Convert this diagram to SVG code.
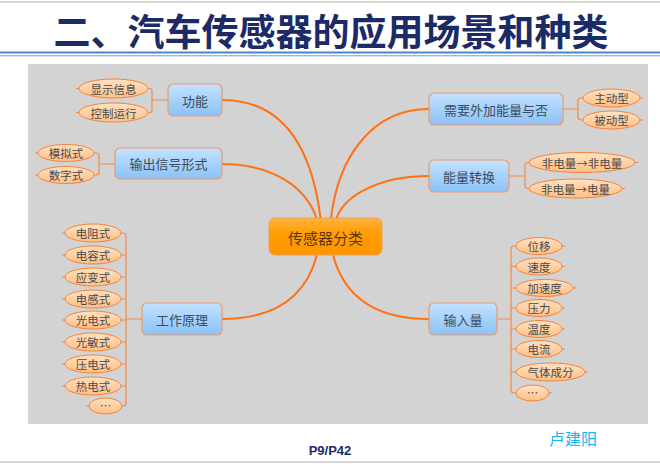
<svg xmlns="http://www.w3.org/2000/svg" width="660" height="464" viewBox="0 0 660 464">
<defs>
<linearGradient id="gBlue" x1="0" y1="0" x2="0" y2="1">
<stop offset="0" stop-color="#c4e2ff"/>
<stop offset="0.5" stop-color="#a6d2fb"/>
<stop offset="1" stop-color="#8cc2f6"/>
</linearGradient>
<linearGradient id="gOrange" x1="0" y1="0" x2="0" y2="1">
<stop offset="0" stop-color="#ffb340"/>
<stop offset="0.45" stop-color="#ff9c00"/>
<stop offset="1" stop-color="#ff9500"/>
</linearGradient>
<linearGradient id="gLeaf" x1="0" y1="0" x2="0" y2="1">
<stop offset="0" stop-color="#ffe2c4"/>
<stop offset="1" stop-color="#ffbf85"/>
</linearGradient>
<style>
.blue{fill:url(#gBlue);stroke:#ef9a6a;stroke-width:1.2}
.core{fill:url(#gOrange);stroke:#f0a050;stroke-width:1}
.leaf{fill:url(#gLeaf);stroke:#f5833a;stroke-width:1}
.main{fill:none;stroke:#ff7214;stroke-width:2}
.br{fill:none;stroke:#f08a4a;stroke-width:1.2}
.tail{fill:none;stroke:#f5833a;stroke-width:1}
.t{font-family:"Noto Sans CJK SC","Liberation Sans",sans-serif;text-anchor:middle;dominant-baseline:central}
.tb{font-size:13px;fill:#3c4c5c}
.tl{font-size:11.5px;fill:#4a4a4a}
.tc{font-size:15px;fill:#5a3a10}
</style>
</defs>
<rect x="0" y="0" width="660" height="464" fill="#ffffff"/>
<line x1="0" y1="2" x2="660" y2="2" stroke="#c8c8c8" stroke-width="1.5"/>
<text x="331" y="30" class="t" font-size="37" font-weight="bold" fill="#1c2b66">二、汽车传感器的应用场景和种类</text>
<line x1="0" y1="52.5" x2="660" y2="52.5" stroke="#4a86d0" stroke-width="1.8"/>
<line x1="0" y1="55.8" x2="660" y2="55.8" stroke="#6a9ad8" stroke-width="1"/>
<rect x="28" y="64" width="620" height="360" fill="#d3d3d3"/>
<line x1="0" y1="462" x2="660" y2="462" stroke="#c8c8c8" stroke-width="1.5"/>

<g id="connectors">
<path class="main" d="M222,100 C285,100 312,150 320.5,218"/>
<path class="main" d="M222,164 C270,164 305,185 316.5,218"/>
<path class="main" d="M429,109 C370,109 338,160 331,218"/>
<path class="main" d="M429,176 C380,176 345,195 336.5,218"/>
<path class="main" d="M222,319 C270,319 305,300 317,255"/>
<path class="main" d="M429,319 C380,319 345,300 333,255"/>
<path class="br" d="M168,100 H152 M148,88.5 H150 Q152,88.5 152,91 V110 Q152,112.5 150,112.5 H148"/>
<path class="br" d="M115,164 H99 M94,153 H96 Q99,153 99,156 V172 Q99,175 96,175 H94"/>
<path class="br" d="M142,319 H126 M121,233 H123 Q126,233 126,236 V403 Q126,406 123,406 H122 M121,255 H126 M121,277 H126 M121,299 H126 M121,320 H126 M121,342 H126 M121,364 H126 M121,386 H126"/>
<path class="br" d="M563,109 H578 M583,98 H581 Q578,98 578,101 V117 Q578,120 581,120 H583"/>
<path class="br" d="M509,176 H525 M529,162.5 H528 Q525,162.5 525,165.5 V185.5 Q525,188.5 528,188.5 H529"/>
<path class="br" d="M497,319 H511 M516,246 H514 Q511,246 511,249 V390 Q511,393 514,393 H516 M516,266.5 H511 M516,288 H511 M516,308 H511 M516,329 H511 M516,349 H511 M516,372 H511"/>
<path class="tail" d="M79,88.5 H76 M79,112.5 H76 M38,153 H35 M38,175 H35 M65,233 H62 M65,255 H62 M65,277 H62 M65,299 H62 M65,320 H62 M65,342 H62 M65,364 H62 M65,386 H62 M89,406 H86 M640,98 H643 M640,120 H643 M635,162.5 H638 M622,188.5 H625 M562,246 H565 M562,266.5 H565 M573,288 H576 M562,308 H565 M562,329 H565 M562,349 H565 M585,372 H588 M549,393 H552"/>
</g>

<g id="core"><rect class="core" x="269" y="218" width="113" height="37" rx="6"/><text class="t tc" x="325.5" y="237">传感器分类</text></g>

<g id="n-func"><rect class="blue" x="168" y="84" width="54" height="32" rx="5"/><text class="t tb" x="195" y="100">功能</text></g>
<g id="l-disp"><ellipse class="leaf" cx="113.5" cy="88.5" rx="34.5" ry="9.5"/><text class="t tl" x="113.5" y="88.5">显示信息</text></g>
<g id="l-ctrl"><ellipse class="leaf" cx="113.5" cy="112.5" rx="34.5" ry="9.5"/><text class="t tl" x="113.5" y="112.5">控制运行</text></g>

<g id="n-out"><rect class="blue" x="115" y="148" width="107" height="31" rx="5"/><text class="t tb" x="168.5" y="163.5">输出信号形式</text></g>
<g id="l-analog"><ellipse class="leaf" cx="66" cy="153" rx="28" ry="8.5"/><text class="t tl" x="66" y="153">模拟式</text></g>
<g id="l-digital"><ellipse class="leaf" cx="66" cy="175" rx="28" ry="8.5"/><text class="t tl" x="66" y="175">数字式</text></g>

<g id="n-work"><rect class="blue" x="142" y="303" width="80" height="32" rx="5"/><text class="t tb" x="182" y="319">工作原理</text></g>
<g id="l-w1"><ellipse class="leaf" cx="93" cy="233" rx="28" ry="9"/><text class="t tl" x="93" y="233">电阻式</text></g>
<g id="l-w2"><ellipse class="leaf" cx="93" cy="255" rx="28" ry="9"/><text class="t tl" x="93" y="255">电容式</text></g>
<g id="l-w3"><ellipse class="leaf" cx="93" cy="277" rx="28" ry="9"/><text class="t tl" x="93" y="277">应变式</text></g>
<g id="l-w4"><ellipse class="leaf" cx="93" cy="299" rx="28" ry="9"/><text class="t tl" x="93" y="299">电感式</text></g>
<g id="l-w5"><ellipse class="leaf" cx="93" cy="320" rx="28" ry="9"/><text class="t tl" x="93" y="320">光电式</text></g>
<g id="l-w6"><ellipse class="leaf" cx="93" cy="342" rx="28" ry="9"/><text class="t tl" x="93" y="342">光敏式</text></g>
<g id="l-w7"><ellipse class="leaf" cx="93" cy="364" rx="28" ry="9"/><text class="t tl" x="93" y="364">压电式</text></g>
<g id="l-w8"><ellipse class="leaf" cx="93" cy="386" rx="28" ry="9"/><text class="t tl" x="93" y="386">热电式</text></g>
<g id="l-w9"><ellipse class="leaf" cx="105.5" cy="406" rx="16.5" ry="8"/><text class="t tl" x="105.5" y="405">…</text></g>

<g id="n-energy"><rect class="blue" x="429" y="93" width="134" height="32" rx="5"/><text class="t tb" x="496" y="109">需要外加能量与否</text></g>
<g id="l-active"><ellipse class="leaf" cx="611.5" cy="98" rx="28.5" ry="9"/><text class="t tl" x="611.5" y="98">主动型</text></g>
<g id="l-passive"><ellipse class="leaf" cx="611.5" cy="120" rx="28.5" ry="9"/><text class="t tl" x="611.5" y="120">被动型</text></g>

<g id="n-conv"><rect class="blue" x="429" y="160" width="80" height="32" rx="5"/><text class="t tb" x="469" y="176">能量转换</text></g>
<g id="l-c1"><ellipse class="leaf" cx="582" cy="162.5" rx="53" ry="10"/><text class="t tl" x="582" y="162.5">非电量→非电量</text></g>
<g id="l-c2"><ellipse class="leaf" cx="575.5" cy="188.5" rx="46.5" ry="9.5"/><text class="t tl" x="575.5" y="188.5">非电量→电量</text></g>

<g id="n-input"><rect class="blue" x="429" y="303" width="68" height="32" rx="5"/><text class="t tb" x="463" y="319">输入量</text></g>
<g id="l-i1"><ellipse class="leaf" cx="539" cy="246" rx="23" ry="8.5"/><text class="t tl" x="539" y="246">位移</text></g>
<g id="l-i2"><ellipse class="leaf" cx="539" cy="266.5" rx="23" ry="8.5"/><text class="t tl" x="539" y="266.5">速度</text></g>
<g id="l-i3"><ellipse class="leaf" cx="544.5" cy="288" rx="28.5" ry="8.5"/><text class="t tl" x="544.5" y="288">加速度</text></g>
<g id="l-i4"><ellipse class="leaf" cx="539" cy="308" rx="23" ry="8.5"/><text class="t tl" x="539" y="308">压力</text></g>
<g id="l-i5"><ellipse class="leaf" cx="539" cy="329" rx="23" ry="8.5"/><text class="t tl" x="539" y="329">温度</text></g>
<g id="l-i6"><ellipse class="leaf" cx="539" cy="349" rx="23" ry="8.5"/><text class="t tl" x="539" y="349">电流</text></g>
<g id="l-i7"><ellipse class="leaf" cx="550.5" cy="372" rx="34.5" ry="9"/><text class="t tl" x="550.5" y="372">气体成分</text></g>
<g id="l-i8"><ellipse class="leaf" cx="532.5" cy="393" rx="16.5" ry="8"/><text class="t tl" x="532.5" y="392">…</text></g>

<text x="330" y="450" class="t" font-size="13" font-weight="bold" fill="#1c2b66" style="font-family:'Liberation Sans','Noto Sans CJK SC',sans-serif">P9/P42</text>
<text x="573" y="438" class="t" font-size="16" fill="#1ab4ec">卢建阳</text>
</svg>
